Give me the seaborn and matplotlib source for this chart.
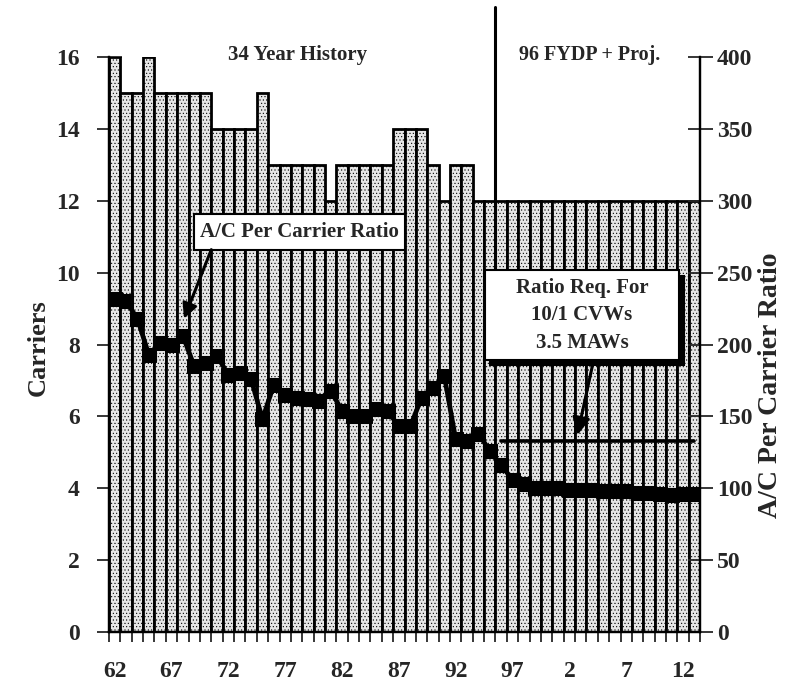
import matplotlib
matplotlib.use('Agg')
import matplotlib.pyplot as plt
import seaborn as sns
import numpy as np
import pandas as pd
from matplotlib.patches import Rectangle

# ---------------- data ----------------
years = list(range(1962, 2014))
carriers = [16, 15, 15, 16, 15, 15, 15, 15, 15, 14,
            14, 14, 14, 15, 13, 13, 13, 13, 13, 12,
            13, 13, 13, 13, 13, 14, 14, 14, 13, 12,
            13, 13, 12, 12, 12, 12, 12, 12, 12, 12,
            12, 12, 12, 12, 12, 12, 12, 12, 12, 12,
            12, 12]
ratio = [232, 230, 218, 193, 201, 200, 206, 185, 187, 192,
         179, 180, 176, 148, 172, 165, 163, 162, 161, 168,
         154, 150, 150, 155, 154, 143, 143, 163, 170, 178,
         134, 133, 138, 126, 116, 106, 103, 100, 100, 100,
         99, 99, 99, 98, 98, 98, 97, 97, 96, 95,
         96, 96]
req_years = [1996, 2013]
req_ratio = [133, 133]
tick_years = [1962, 1967, 1972, 1977, 1982, 1987, 1992, 1997, 2002, 2007, 2012]
tick_labels = ['62', '67', '72', '77', '82', '87', '92', '97', '2', '7', '12']
history_label = '34 Year History'
proj_label = '96 FYDP + Proj.'
ratio_box_label = 'A/C Per Carrier Ratio'
req_box_label = 'Ratio Req. For\n10/1 CVWs\n3.5 MAWs'

df = pd.DataFrame({'year': years, 'carriers': carriers})

# ---------------- style ----------------
sns.set_style('white')
plt.rcParams['font.family'] = ['Liberation Serif', 'DejaVu Serif']
plt.rcParams['font.weight'] = 'bold'
plt.rcParams['hatch.color'] = '#8a8a8a'
plt.rcParams['hatch.linewidth'] = 0.4

fig = plt.figure(figsize=(7.92, 6.87), dpi=100)
ax = fig.add_axes([0.1376, 0.080, 0.7464, 0.837])

sns.barplot(data=df, x='year', y='carriers', ax=ax, color='#e6e6e6',
            edgecolor='black', linewidth=2.0, width=1.0, saturation=1,
            zorder=1)
for p in ax.patches:
    p.set_hatch('.....')

ax.set_xlim(-0.5, len(years) - 0.5)
ax.set_ylim(0, 16)

pos = np.arange(len(years))
ax2 = ax.twinx()
ax2.set_zorder(ax.get_zorder() + 1)
ax2.patch.set_visible(False)
sns.lineplot(x=pos, y=ratio, ax=ax2, color='black', linewidth=3.4,
             marker='s', markersize=9.5, markeredgecolor='black', zorder=3)
rx = [years.index(y) for y in req_years]
sns.lineplot(x=rx, y=req_ratio, ax=ax2, color='black', linewidth=2.6, zorder=3)
ax2.set_ylim(0, 400)
ax2.set_xlim(-0.5, len(years) - 0.5)

# spines
for a in (ax, ax2):
    a.spines['top'].set_visible(False)
    for s in ('left', 'right', 'bottom'):
        a.spines[s].set_linewidth(1.6)
        a.spines[s].set_color('black')

# y ticks
ax.set_yticks(range(0, 17, 2))
ax.tick_params(axis='y', direction='inout', length=18, width=1.3,
               labelsize=17, pad=12, left=True)
ax2.set_yticks(range(0, 401, 50))
ax2.tick_params(axis='y', direction='inout', length=18, width=1.3,
                labelsize=17, pad=3, right=True)

# x ticks
tpos = [years.index(y) for y in tick_years]
ax.set_xticks(tpos)
ax.set_xticklabels(tick_labels, fontsize=17, fontweight='bold')
ax.set_xticks(np.arange(-0.5, len(years), 1), minor=True)
ax.tick_params(axis='x', which='major', length=0, pad=21)
ax.tick_params(axis='x', which='minor', direction='inout', length=14,
               width=1.3, bottom=True)
ax.set_xlabel('')

ax.set_ylabel('Carriers', fontsize=19, fontweight='bold')
ax.yaxis.set_label_coords(-0.10, 0.495)
ax2.set_ylabel('A/C Per Carrier Ratio', fontsize=20, fontweight='bold')
ax2.yaxis.set_label_coords(1.098, 0.43)

# headings
ax.text(16.1, 16.05, history_label, ha='center', va='center', fontsize=15,
        fontweight='bold', zorder=5)
ax.text(41.75, 16.05, proj_label, ha='center', va='center', fontsize=14.5,
        fontweight='bold', zorder=5)

# vertical divider
ax.plot([33.5, 33.5], [9.8, 17.4], color='black', lw=2.2, clip_on=False,
        zorder=4)

# box 1
ax2.add_patch(Rectangle((7.0, 266), 18.5, 24.5, facecolor='white',
                        edgecolor='black', lw=1.5, zorder=6))
ax2.text(16.25, 278.5, ratio_box_label, ha='center', va='center', fontsize=15,
         fontweight='bold', zorder=7)
ax2.annotate('', xy=(6.1, 218), xytext=(8.5, 266),
             arrowprops=dict(arrowstyle='-|>', color='black', lw=2.2,
                             mutation_scale=22, shrinkA=0, shrinkB=0),
             zorder=6)

# box 2 with shadow
ax2.add_patch(Rectangle((33.0, 185.5), 17.1, 62.5, facecolor='black',
                        edgecolor='black', lw=1.5, zorder=6))
ax2.add_patch(Rectangle((32.55, 189.5), 17.1, 62.5, facecolor='white',
                        edgecolor='black', lw=1.5, zorder=6.5))
ax2.text(41.1, 220.5, req_box_label, ha='center', va='center', fontsize=15,
         fontweight='bold', linespacing=1.5, zorder=7)
ax2.annotate('', xy=(40.7, 137), xytext=(42.1, 188),
             arrowprops=dict(arrowstyle='-|>', color='black', lw=2.2,
                             mutation_scale=26, shrinkA=0, shrinkB=0),
             zorder=6)

fig.savefig('out.png', dpi=100)
